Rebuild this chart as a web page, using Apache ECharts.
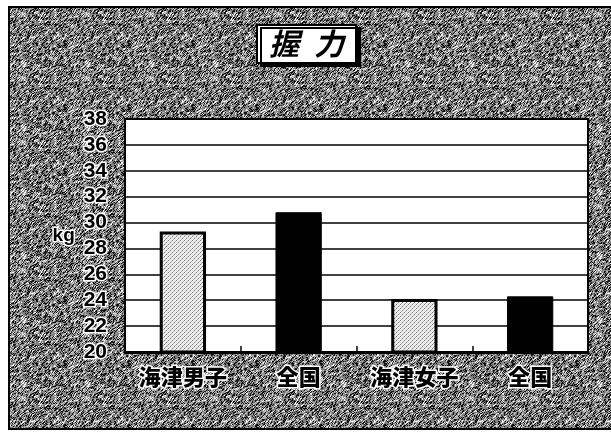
<!DOCTYPE html>
<html>
<head>
<meta charset="utf-8">
<script src="https://cdn.jsdelivr.net/npm/echarts@6/dist/echarts.min.js"></script>
<style>
  html, body { margin: 0; padding: 0; background: #fff; }
  #chart { width: 611px; height: 433px; }
</style>
</head>
<body>
<div id="chart"></div>
<script>
// Grip strength (握力): Kaizu boys/girls against the national average
const categories = ['海津男子', '全国', '海津女子', '全国'];
const gripValues = [29.3, 30.8, 24.1, 24.3];
const barKinds = ['local', 'national', 'local', 'national'];
const yTicks = { min: 20, max: 38, step: 2 };
const titleText = '握\u2002力';
const unitText = 'kg';

// Fixed integer hash, so the texture is identical on every render
function hash2(x, y) {
  let h = (Math.imul(x, 374761393) + Math.imul(y, 668265263)) | 0;
  h = Math.imul(h ^ (h >>> 13), 1274126177);
  h = h ^ (h >>> 16);
  return (h >>> 0) % 1000;
}

// Grainy halftone-style fill for the panel background
function makeGrain() {
  const n = 64;
  const c = document.createElement('canvas');
  c.width = n; c.height = n;
  const ctx = c.getContext('2d');
  for (let y = 0; y < n; y++) {
    for (let x = 0; x < n; x++) {
      // blend each pixel with its diagonal neighbour for a slight streaky grain
      const a = hash2(x, y);
      const b = hash2((x + 1) % n, (y + n - 1) % n);
      const h = (a * 0.6 + b * 0.4) / 10;
      let col;
      if (h < 38) col = '#141414';
      else if (h < 64) col = '#7e7e7e';
      else if (h < 78) col = '#b8b8b8';
      else col = '#f4f4f4';
      ctx.fillStyle = col;
      ctx.fillRect(x, y, 1, 1);
    }
  }
  return c;
}

// Light stipple used for the local bars
function makeStipple() {
  const c = document.createElement('canvas');
  c.width = 4; c.height = 4;
  const ctx = c.getContext('2d');
  ctx.fillStyle = '#ececec';
  ctx.fillRect(0, 0, 4, 4);
  ctx.fillStyle = '#7a7a7a';
  ctx.fillRect(0, 0, 1, 1);
  ctx.fillRect(2, 2, 1, 1);
  ctx.fillStyle = '#b0b0b0';
  ctx.fillRect(1, 3, 1, 1);
  ctx.fillRect(3, 1, 1, 1);
  return c;
}

const grain = { image: makeGrain(), repeat: 'repeat' };
const stipple = { image: makeStipple(), repeat: 'repeat' };

const barData = gripValues.map((v, i) => ({
  value: v,
  itemStyle: barKinds[i] === 'local'
    ? { color: stipple, borderColor: '#000', borderWidth: 3 }
    : { color: '#000', borderColor: '#000', borderWidth: 1 }
}));

const labelFont = 'Liberation Sans, Arial, sans-serif';
const cjkFont = '"Noto Sans CJK JP", "Noto Sans CJK SC", sans-serif';

const chart = echarts.init(document.getElementById('chart'), null, { renderer: 'canvas' });
chart.setOption({
  backgroundColor: '#fff',
  animation: false,
  graphic: [{
    type: 'rect',
    z: -10,
    shape: { x: 9, y: 7, width: 640, height: 422 },
    style: { fill: grain, stroke: '#000', lineWidth: 2 }
  }],
  title: {
    text: titleText,
    left: 257,
    top: 25,
    padding: [3, 12, 3, 12],
    backgroundColor: '#fff',
    borderColor: '#000',
    borderWidth: 2,
    shadowColor: '#000',
    shadowOffsetX: 4,
    shadowOffsetY: 3,
    shadowBlur: 0,
    textStyle: {
      fontFamily: cjkFont,
      fontSize: 30,
      fontWeight: 'bold',
      fontStyle: 'italic',
      color: '#000',
      lineHeight: 32
    }
  },
  grid: {
    left: 125, right: 23, top: 119, bottom: 81,
    show: true,
    backgroundColor: '#fff',
    borderColor: '#000',
    borderWidth: 2
  },
  xAxis: {
    type: 'category',
    data: categories,
    boundaryGap: true,
    axisLine: { lineStyle: { color: '#000', width: 3 } },
    axisTick: { show: true, inside: true, length: 6, lineStyle: { color: '#000', width: 1.5 } },
    axisLabel: {
      margin: 14,
      fontFamily: cjkFont,
      fontSize: 22,
      fontWeight: 900,
      color: '#000',
      textBorderColor: '#fff',
      textBorderWidth: 3
    }
  },
  yAxis: {
    type: 'value',
    min: yTicks.min,
    max: yTicks.max,
    interval: yTicks.step,
    name: unitText,
    nameLocation: 'middle',
    nameRotate: 0,
    nameGap: 36,
    nameTextStyle: {
      fontFamily: labelFont,
      fontSize: 19,
      fontWeight: 'bold',
      color: '#000',
      textBorderColor: '#fff',
      textBorderWidth: 3,
      padding: [28, 0, 0, 0]
    },
    axisLine: { show: true, lineStyle: { color: '#000', width: 2 } },
    axisTick: { show: false },
    splitLine: { show: true, lineStyle: { color: '#000', width: 1.5 } },
    axisLabel: {
      margin: 18,
      fontFamily: labelFont,
      fontSize: 21,
      fontWeight: 'bold',
      color: '#000',
      textBorderColor: '#fff',
      textBorderWidth: 3
    }
  },
  series: [{
    type: 'bar',
    data: barData,
    barWidth: '40%',
    z: 3
  }]
});
</script>
</body>
</html>
